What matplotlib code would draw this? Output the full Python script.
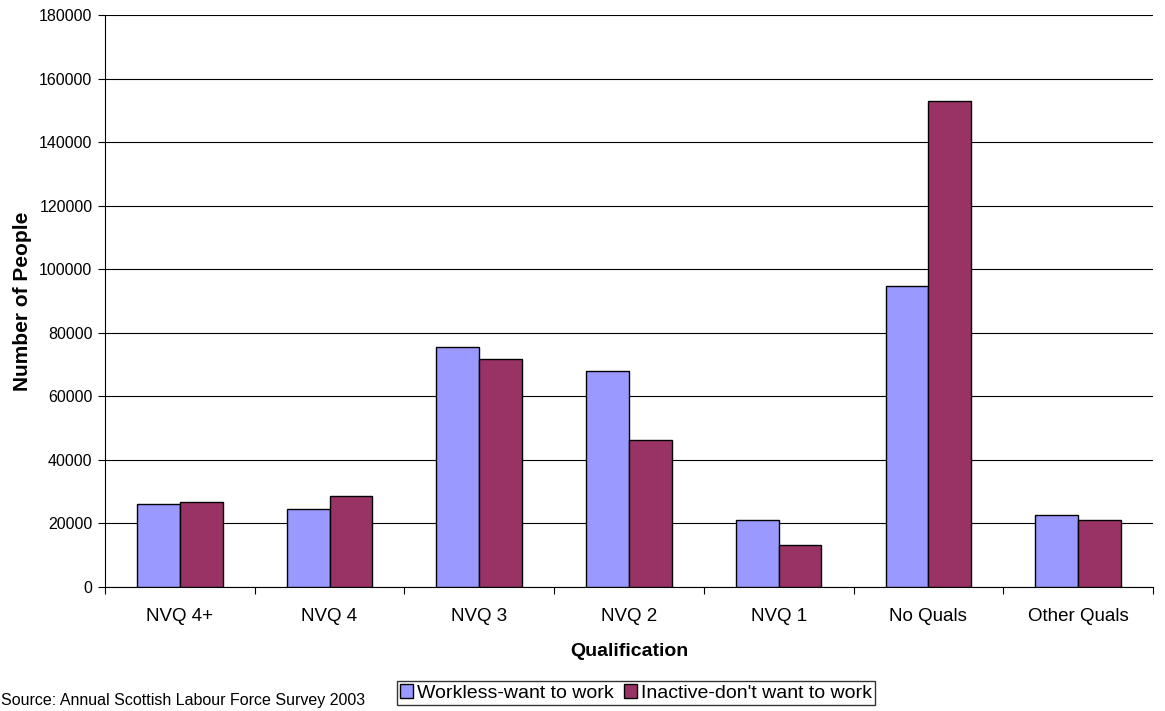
import numpy as np
import matplotlib.pyplot as plt
from matplotlib.patches import Patch

plt.rcParams['font.family'] = ['Liberation Sans', 'DejaVu Sans']

categories = ["NVQ 4+", "NVQ 4", "NVQ 3", "NVQ 2", "NVQ 1", "No Quals", "Other Quals"]
want_to_work = [26000, 24500, 75500, 67800, 21000, 94700, 22600]
dont_want_to_work = [26700, 28700, 71700, 46200, 13200, 152900, 20900]
series_names = ["Workless-want to work", "Inactive-don't want to work"]

blue = "#9999FF"
plum = "#993366"

fig = plt.figure(figsize=(11.65, 7.11), dpi=100)
ax = fig.add_axes([0.0901, 0.1748, 0.8996, 0.8041])

x = np.arange(len(categories))
w = 1 / 3.5
ax.bar(x - w / 2, want_to_work, w, color=blue, edgecolor="black", linewidth=1, zorder=3)
ax.bar(x + w / 2, dont_want_to_work, w, color=plum, edgecolor="black", linewidth=1, zorder=3)

ax.set_xlim(-0.5, len(categories) - 0.5)
ax.set_ylim(0, 180000)
ax.set_yticks(np.arange(0, 180001, 20000))
ax.yaxis.grid(True, color="black", linewidth=0.8, zorder=0)

# ticks sit on category boundaries, labels in the middle
ax.set_xticks(np.arange(-0.5, len(categories), 1))
ax.set_xticklabels([])
ax.set_xticks(x, minor=True)
ax.set_xticklabels(categories, minor=True, fontsize=13.5)
ax.tick_params(axis="x", which="minor", length=0, pad=15)
ax.tick_params(axis="x", which="major", length=5, direction="out")
ax.tick_params(axis="y", length=5, direction="out", labelsize=11.5, pad=4)

for s in ["top", "right"]:
    ax.spines[s].set_visible(False)

ax.set_xlabel("Qualification", fontsize=14, fontweight="bold", labelpad=13)
ax.set_ylabel("Number of People", fontsize=15, fontweight="bold", labelpad=5)

handles = [Patch(facecolor=blue, edgecolor="black"), Patch(facecolor=plum, edgecolor="black")]
fig.legend(handles, series_names, loc="center", bbox_to_anchor=(0.546, 0.0255), ncol=2,
           fontsize=14, frameon=True, fancybox=False, edgecolor="black",
           handlelength=0.7, handleheight=0.7, handletextpad=0.2, columnspacing=0.5,
           borderpad=0.15, borderaxespad=0)

fig.text(0.001, 0.004, "Source: Annual Scottish Labour Force Survey 2003", fontsize=11.5, ha="left", va="bottom")

fig.savefig("out.png", dpi=100)
